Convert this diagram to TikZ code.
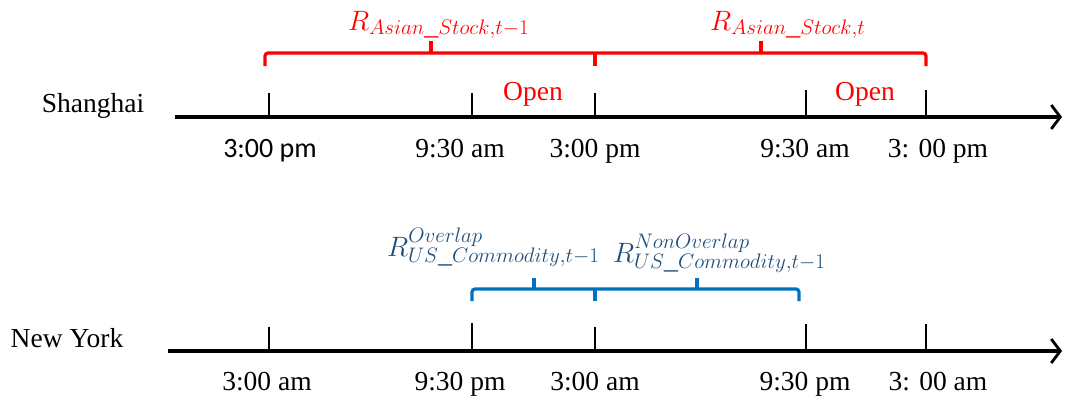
\RequirePackage{fix-cm}
\documentclass[tikz,border=0pt]{standalone}
\usepackage{fontspec}
\setmainfont{Liberation Serif}
\newfontfamily\calib{Carlito}
\DeclareMathSizes{28}{28}{21}{16}
\usetikzlibrary{arrows.meta}
\definecolor{bred}{RGB}{255,0,0}
\definecolor{bblue}{RGB}{0,112,192}
\definecolor{tblue}{RGB}{31,78,121}
\begin{document}
\begin{tikzpicture}[x=1pt,y=-1pt,
  axisline/.style={line width=3.4pt,-{Straight Barb[length=9pt,width=24pt,line width=2.8pt]}},
  tickline/.style={line width=1.6pt},
  tickbold/.style={line width=2.2pt},
  lbl/.style={anchor=base,inner sep=0pt,font=\fontsize{27.5}{30}\selectfont},
  slbl/.style={anchor=base,inner sep=0pt,font=\calib\fontsize{28}{30}\selectfont},
  redtxt/.style={lbl,text=bred},
  mathred/.style={anchor=base west,inner sep=0pt,text=bred,font=\fontsize{28}{30}\selectfont},
  mathblue/.style={anchor=base west,inner sep=0pt,text=tblue,font=\fontsize{28}{30}\selectfont},
  redline/.style={draw=bred,line width=3.2pt},
  blueline/.style={draw=bblue,line width=3.2pt},
  redbrace/.style={redline,rounded corners=3pt},
  bluebrace/.style={blueline,rounded corners=3pt}]
\useasboundingbox (0,0) rectangle (1066,400);

% ---------------- Shanghai ----------------
\node[lbl] (sh) at (93,112) {Shanghai};
\coordinate (sa) at (175,117);
\coordinate (sb) at (1062,117);
\draw[axisline] (sa) -- (sb);
\coordinate (s1) at (269,117);
\coordinate (s2) at (472,117);
\coordinate (s3) at (595,117);
\coordinate (s4) at (806,117);
\coordinate (s5) at (926,117);
\draw[tickline] (s1) -- ++(0,-24);
\draw[tickline] (s2) -- ++(0,-24);
\draw[tickline] (s3) -- ++(0,-24);
\draw[tickline] (s4) -- ++(0,-27);
\draw[tickbold] (s5) -- ++(0,-27);

\node[slbl] (ls1) at (270,157) {3:00 pm};
\node[lbl] (ls2) at (460,157) {9:30 am};
\node[lbl] (ls3) at (595,157) {3:00 pm};
\node[lbl] (ls4) at (805,157) {9:30 am};
\node[lbl] (ls5) at (938,157) {3: 00 pm};

\node[redtxt] (o1) at (533,100) {Open};
\node[redtxt] (o2) at (865,100) {Open};

% red braces
\coordinate (rb1) at (265,66);
\coordinate (rb2) at (926,66);
\draw[redbrace] (rb1) -- (265,53) -- (926,53) -- (rb2);
\draw[redline] (595,53) -- (595,66);
\draw[redline] (431,54) -- (431,41);
\draw[redline] (761,54) -- (761,41);
\node[mathred] (ra) at (348,30) {$R_{Asian\_Stock,t-1}$};
\node[mathred] (rb) at (710,30) {$R_{Asian\_Stock,t}$};

% ---------------- New York ----------------
\node[lbl] (ny) at (67,347) {New York};
\coordinate (na) at (168,351);
\coordinate (nb) at (1062,351);
\draw[axisline] (na) -- (nb);
\coordinate (n1) at (269,351);
\coordinate (n2) at (472,351);
\coordinate (n3) at (595,351);
\coordinate (n4) at (806,351);
\coordinate (n5) at (926,351);
\draw[tickline] (n1) -- ++(0,-24);
\draw[tickline] (n2) -- ++(0,-28);
\draw[tickline] (n3) -- ++(0,-24);
\draw[tickline] (n4) -- ++(0,-27);
\draw[tickbold] (n5) -- ++(0,-27);

\node[lbl] (ln1) at (267,390) {3:00 am};
\node[lbl] (ln2) at (460,390) {9:30 pm};
\node[lbl] (ln3) at (595,390) {3:00 am};
\node[lbl] (ln4) at (805,390) {9:30 pm};
\node[lbl] (ln5) at (938,390) {3: 00 am};

% blue braces
\coordinate (bb1) at (472,301);
\coordinate (bb2) at (799,301);
\draw[bluebrace] (bb1) -- (472,289) -- (799,289) -- (bb2);
\draw[blueline] (595,289) -- (595,301);
\draw[blueline] (534,290) -- (534,278);
\draw[blueline] (697,290) -- (697,278);
\node[mathblue] (ba) at (387,256) {$R^{Overlap}_{US\_Commodity,t-1}$};
\node[mathblue] (bc) at (613,262) {$R^{NonOverlap}_{US\_Commodity,t-1}$};
\end{tikzpicture}
\end{document}
